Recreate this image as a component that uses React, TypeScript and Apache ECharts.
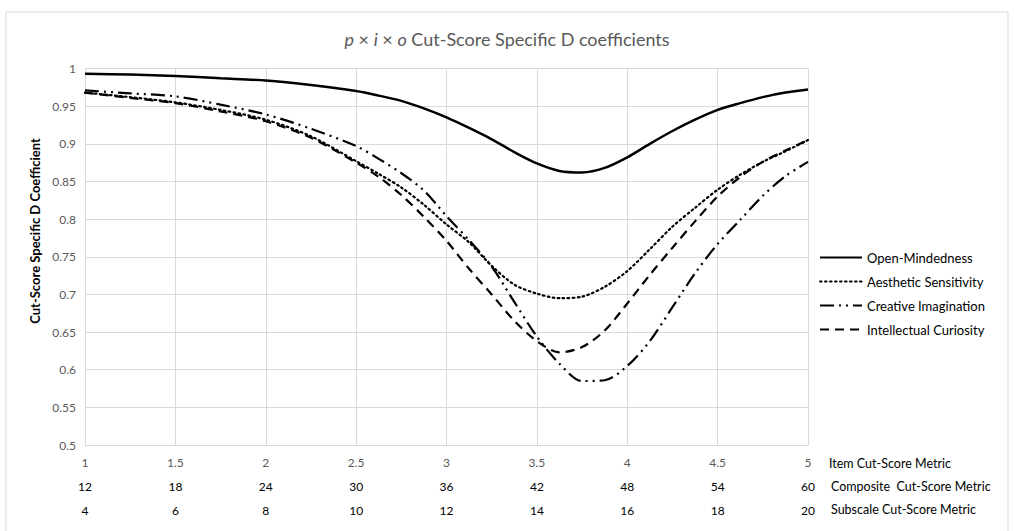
import React, { useEffect, useRef } from "react";
import * as echarts from "echarts";

const xs = [1, 1.25, 1.5, 1.75, 2, 2.25, 2.5, 2.625, 2.75, 2.875, 3, 3.125, 3.25, 3.375, 3.5, 3.625, 3.75, 3.875, 4, 4.125, 4.25, 4.375, 4.5, 4.625, 4.75, 4.875, 5];
const openMindedness = [0.993, 0.992, 0.990, 0.987, 0.984, 0.978, 0.970, 0.964, 0.957, 0.947, 0.935, 0.921, 0.906, 0.889, 0.874, 0.864, 0.862, 0.868, 0.882, 0.900, 0.917, 0.932, 0.945, 0.954, 0.962, 0.968, 0.972];
const aestheticSensitivity = [0.968, 0.962, 0.955, 0.945, 0.932, 0.910, 0.877, 0.860, 0.842, 0.819, 0.793, 0.769, 0.738, 0.713, 0.701, 0.695, 0.697, 0.710, 0.731, 0.760, 0.790, 0.815, 0.839, 0.859, 0.876, 0.890, 0.905];
const creativeImagination = [0.971, 0.967, 0.963, 0.952, 0.939, 0.920, 0.897, 0.880, 0.861, 0.838, 0.804, 0.772, 0.737, 0.690, 0.644, 0.608, 0.585, 0.586, 0.605, 0.638, 0.683, 0.728, 0.767, 0.799, 0.831, 0.857, 0.876];
const intellectualCuriosity = [0.968, 0.961, 0.954, 0.943, 0.930, 0.908, 0.875, 0.856, 0.832, 0.803, 0.771, 0.734, 0.700, 0.665, 0.638, 0.623, 0.630, 0.652, 0.688, 0.726, 0.762, 0.797, 0.830, 0.856, 0.876, 0.891, 0.905];

const itemTicks = ["1", "1.5", "2", "2.5", "3", "3.5", "4", "4.5", "5"];
const compositeTicks = ["12", "18", "24", "30", "36", "42", "48", "54", "60"];
const subscaleTicks = ["4", "6", "8", "10", "12", "14", "16", "18", "20"];
const rowNames = ["Item Cut-Score Metric", "Composite  Cut-Score Metric", "Subscale Cut-Score Metric"];
const seriesNames = ["Open-Mindedness", "Aesthetic Sensitivity", "Creative Imagination", "Intellectual Curiosity"];

const FONT = "Lato, 'Open Sans', sans-serif";

export default function App() {
  const ref = useRef<HTMLDivElement>(null);
  useEffect(() => {
    if (!ref.current) return;
    const chart = echarts.init(ref.current, null, { renderer: "svg" });
    const pairs = (vals: number[]) => xs.map((x, i) => [x, vals[i]]);
    const idx = (v: number) => Math.round((v - 1) / 0.5);
    const styles: any[] = [
      { type: "solid", width: 2.5 },
      { type: [1.6, 3.4], width: 2.2, cap: "round" },
      { type: [14, 5, 2, 5, 2, 5], width: 2.2 },
      { type: [9, 6], width: 2.2 },
    ];
    const data = [openMindedness, aestheticSensitivity, creativeImagination, intellectualCuriosity];
    const baseX = {
      type: "value",
      min: 1,
      max: 5,
      interval: 0.5,
      gridIndex: 0,
      position: "bottom",
      axisTick: { show: false },
    };
    chart.setOption({
      animation: false,
      textStyle: { fontFamily: FONT },
      title: {
        text: "{i|p} × {i|i} × {i|o} Cut-Score Specific D coefficients",
        left: "center",
        top: 25,
        textStyle: {
          fontFamily: FONT,
          fontSize: 18,
          fontWeight: "normal",
          color: "#595959",
          rich: { i: { fontFamily: FONT, fontSize: 18, fontStyle: "italic", color: "#595959" } },
        },
      },
      grid: { left: 85, right: 206, top: 68.5, bottom: 86 },
      legend: {
        orient: "vertical",
        left: 814,
        top: 246,
        itemWidth: 42,
        itemHeight: 12,
        itemGap: 11,
        itemStyle: { opacity: 0 },
        textStyle: { fontFamily: FONT, fontSize: 13, color: "#000" },
        data: seriesNames,
      },
      xAxis: [
        {
          ...baseX,
          axisLine: { show: true, lineStyle: { color: "#d9d9d9" } },
          splitLine: { show: true, lineStyle: { color: "#d9d9d9" } },
          axisLabel: { color: "#595959", fontSize: 12, margin: 11, formatter: (v: number) => itemTicks[idx(v)] },
        },
        {
          ...baseX,
          axisLine: { show: false },
          splitLine: { show: false },
          axisLabel: { color: "#000", fontSize: 12, margin: 35, formatter: (v: number) => compositeTicks[idx(v)] },
        },
        {
          ...baseX,
          axisLine: { show: false },
          splitLine: { show: false },
          axisLabel: { color: "#000", fontSize: 12, margin: 59, formatter: (v: number) => subscaleTicks[idx(v)] },
        },
      ],
      yAxis: {
        type: "value",
        min: 0.5,
        max: 1,
        interval: 0.05,
        axisLine: { show: true, lineStyle: { color: "#d9d9d9" } },
        axisTick: { show: false },
        splitLine: { show: true, lineStyle: { color: "#d9d9d9" } },
        axisLabel: { color: "#595959", fontSize: 12, margin: 9, formatter: (v: number) => String(+v.toFixed(2)) },
      },
      series: seriesNames.map((name, i) => ({
        name,
        type: "line",
        xAxisIndex: 0,
        data: pairs(data[i]),
        smooth: 0.3,
        symbol: "none",
        lineStyle: { color: "#000", ...styles[i] },
        itemStyle: { color: "#000" },
      })),
      graphic: [
        {
          type: "rect",
          shape: { x: 6, y: 12, width: 1002, height: 540 },
          style: { fill: "none", stroke: "#d9d9d9", lineWidth: 1 },
          silent: true,
        },
        {
          type: "text",
          x: 35,
          y: 231,
          rotation: Math.PI / 2,
          style: {
            text: "Cut-Score Specific D Coefficient",
            font: `bold 13px ${FONT}`,
            fill: "#000",
            align: "center",
            verticalAlign: "middle",
          },
        },
        ...rowNames.map((t, i) => ({
          type: "text",
          x: i === 0 ? 829 : 831,
          y: [463, 486, 509][i],
          style: { text: t, font: `12.5px ${FONT}`, fill: "#000", align: "left", verticalAlign: "middle" },
        })),
      ],
    });
    return () => chart.dispose();
  }, []);
  return (
    <div
      ref={ref}
      style={{ position: "absolute", left: 0, top: 0, width: 1014, height: 531, background: "#fff" }}
    />
  );
}
